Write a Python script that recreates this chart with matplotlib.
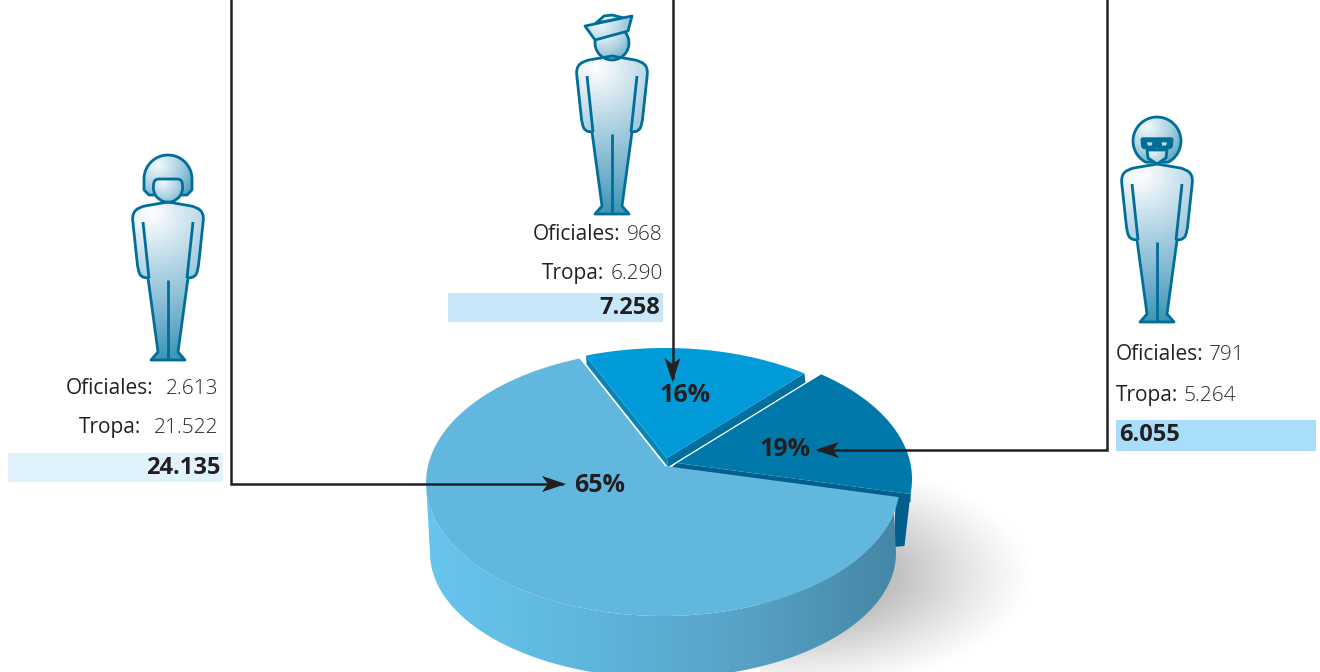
import numpy as np
import matplotlib
matplotlib.use('Agg')
import matplotlib.pyplot as plt
from matplotlib.colors import LinearSegmentedColormap
from matplotlib.path import Path
from matplotlib.patches import PathPatch, Polygon, Rectangle

# efectivos por grupo
oficiales = [2613, 968, 791]
tropa = [21522, 6290, 5264]
totales = [24135, 7258, 6055]
porcentajes = [65, 16, 19]

plt.rcParams['font.family'] = ['Open Sans', 'DejaVu Sans']

OUTLINE = '#006E98'
INK = '#231F20'
TOP = ['#62B7DF', '#029BD9', '#0079AA']
TIPS = [(665, 466), (667, 458), (677, 463)]
SHIFTS = [(-2, 0), (0, -2), (10, -4)]
CX, CY, RX, RY = 665, 483, 237, 133
K = 0.60
START = 347.5

fig = plt.figure(figsize=(13.2, 6.72), dpi=100)
ax = fig.add_axes([0, 0, 1, 1])
ax.set_xlim(0, 1320)
ax.set_ylim(672, 0)
ax.axis('off')


def fmt(n):
    return f'{n:,}'.replace(',', '.')


def rim(tip, shift, a):
    # punto del borde de la elipse en la direccion a, visto desde el vertice
    dx, dy = np.cos(a), -np.sin(a) * K
    px, py = tip[0] - CX - shift[0], tip[1] - CY - shift[1]
    A = dx**2 / RX**2 + dy**2 / RY**2
    B = 2 * (px * dx / RX**2 + py * dy / RY**2)
    C = px**2 / RX**2 + py**2 / RY**2 - 1
    t = (-B + np.sqrt(B**2 - 4 * A * C)) / (2 * A)
    return tip[0] + t * dx, tip[1] + t * dy


def face(i, a1, a2):
    angs = np.radians(np.linspace(a1, a2, 120))
    pts = [TIPS[i]] + [rim(TIPS[i], SHIFTS[i], a) for a in angs]
    return pts


def gradient(img, extent, clip, zorder, cmap=None):
    im = ax.imshow(img, extent=extent, aspect='auto', zorder=zorder, cmap=cmap,
                   vmin=0, vmax=1, interpolation='bilinear')
    im.set_clip_path(clip)
    return im


def fill_grad(path, cmap, center, radius, zorder):
    x0, y0, x1, y1 = path.get_extents().extents
    xx, yy = np.meshgrid(np.linspace(x0, x1, 150), np.linspace(y0, y1, 250))
    r = np.hypot(xx - center[0], yy - center[1]) / radius
    patch = PathPatch(path, fc='none', ec='none', zorder=zorder)
    ax.add_patch(patch)
    gradient(np.clip(r, 0, 1), (x0, x1, y1, y0), patch, zorder, cmap)


person_cmap = LinearSegmentedColormap.from_list('p', ['#FFFFFF', '#B8D7E6', '#75B2CD', '#2A8DB0'])
head_cmap = LinearSegmentedColormap.from_list('h', ['#F4FAFC', '#A9D0E0', '#3F97B8'])

BODY = [(0, -158), (29, -153), (36, -146), (30, -90), (27, -83), (20, -82),
        (10, -8), (17, 0), (-17, 0), (-10, -8), (-20, -82), (-27, -83),
        (-30, -90), (-36, -146), (-29, -153)]
BODY_SHARP = (0, 5, 6, 7, 8, 9, 10)


def closed(points):
    codes = [Path.MOVETO] + [Path.LINETO] * (len(points) - 1) + [Path.CLOSEPOLY]
    return Path(list(points) + [points[0]], codes)


def rounded(points, r=5, sharp=()):
    verts = []
    codes = []
    n = len(points)
    for i in range(n):
        p = np.array(points[i], float)
        a = np.array(points[i - 1], float)
        b = np.array(points[(i + 1) % n], float)
        if i in sharp:
            verts.append(tuple(p))
            codes.append(Path.MOVETO if i == 0 else Path.LINETO)
            continue
        ra = min(r, np.linalg.norm(a - p) / 2)
        rb = min(r, np.linalg.norm(b - p) / 2)
        s = p + (a - p) / np.linalg.norm(a - p) * ra
        e = p + (b - p) / np.linalg.norm(b - p) * rb
        verts += [tuple(s), tuple(p), tuple(e)]
        codes += [Path.MOVETO if i == 0 else Path.LINETO, Path.CURVE3, Path.CURVE3]
    verts.append(verts[0])
    codes.append(Path.CLOSEPOLY)
    return Path(verts, codes)


def draw_lines(ox, oy, segs, lw=2.0):
    for s in segs:
        xs = [ox + p[0] for p in s]
        ys = [oy + p[1] for p in s]
        ax.plot(xs, ys, color=OUTLINE, lw=lw, solid_capstyle='butt', zorder=6)


def ell(cx, cy, rx, ry, a1, a2, n=40):
    t = np.radians(np.linspace(a1, a2, n))
    return [(cx + rx * np.cos(v), cy - ry * np.sin(v)) for v in t]


def shape(ox, oy, pts, cmap, hx, hy, rad, z=5, r=0, sharp=()):
    moved = [(ox + x, oy + y) for x, y in pts]
    p = rounded(moved, r, sharp) if r else closed(moved)
    fill_grad(p, cmap, (ox + hx, oy + hy), rad, z)
    ax.add_patch(PathPatch(p, fc='none', ec=OUTLINE, lw=2.0, joinstyle='round', zorder=z + 1))


def person(ox, oy, kind):
    # cuerpo comun a las tres figuras
    shape(ox, oy, BODY, person_cmap, -17, -147, 160, r=7, sharp=BODY_SHARP)
    draw_lines(ox, oy, [[(-25, -138), (-19, -82)], [(25, -138), (19, -82)], [(0, -80), (0, 0)]])
    if kind == 'piloto':
        hair = ell(0, -181, 24, 24, 0, 180) + [(-24, -170), (-19, -165), (19, -165), (24, -170)]
        shape(ox, oy, hair, head_cmap, -10, -195, 45)
        fc = [(-14, -181), (14, -181), (15, -168), (9, -160), (0, -157), (-9, -160), (-15, -168)]
        shape(ox, oy, fc, head_cmap, -5, -178, 32, z=7, r=5)
    elif kind == 'marino':
        shape(ox, oy, ell(0, -171, 17, 17, 0, 360), head_cmap, -8, -183, 42)
        shape(ox, oy, [(-16, -191), (-8, -198), (0, -199), (12, -196)], head_cmap, -6, -200, 36, z=7)
        cap = [(-27, -188), (20, -198), (16, -183), (-17, -174)]
        shape(ox, oy, cap, head_cmap, -12, -192, 48, z=8)
    else:
        hair = ell(0, -181, 24, 24, -62, 242)
        shape(ox, oy, hair, head_cmap, -10, -195, 48)
        shape(ox, oy, [(-10, -172), (10, -172), (9, -164), (0, -158), (-9, -164)], head_cmap, -4, -172, 26, z=7)
        band = [(-16, -184), (16, -184), (15, -174), (4, -172), (0, -175), (-4, -172), (-15, -174)]
        ax.add_patch(PathPatch(rounded([(ox + x, oy + y) for x, y in band], 2), fc=OUTLINE, ec=OUTLINE, lw=1, zorder=9))
        shape(ox, oy, [(-12, -181), (-3, -181), (-4, -175), (-10, -175)], head_cmap, -8, -183, 14, z=10)
        shape(ox, oy, [(3, -181), (12, -181), (10, -175), (4, -175)], head_cmap, 6, -183, 14, z=10)


def pair(x, y, label, value, side, gap):
    if side == 'right':
        t = ax.text(x, y, fmt(value), ha='right', va='center', fontsize=15, color='#2A2A2A', fontweight='light')
        w = t.get_window_extent(fig.canvas.get_renderer()).width
        ax.text(x - w - gap, y, label, ha='right', va='center', fontsize=15, color='#222222')
    else:
        t = ax.text(x, y, label, ha='left', va='center', fontsize=15, color='#222222')
        w = t.get_window_extent(fig.canvas.get_renderer()).width
        ax.text(x + w + gap, y, fmt(value), ha='left', va='center', fontsize=15, color='#2A2A2A', fontweight='light')


def arrow(pts, tip_dir):
    xs = [p[0] for p in pts]
    ys = [p[1] for p in pts]
    ax.plot(xs, ys, color=INK, lw=1.8, solid_joinstyle='miter', zorder=12)
    x, y = pts[-1]
    dx, dy = tip_dir
    nx, ny = -dy, dx
    head = [(x + dx * 4, y + dy * 4), (x - dx * 20 + nx * 8, y - dy * 20 + ny * 8),
            (x - dx * 14, y - dy * 14), (x - dx * 20 - nx * 8, y - dy * 20 - ny * 8)]
    ax.add_patch(Polygon(head, closed=True, fc=INK, ec='none', zorder=13))


# sombra
xx, yy = np.meshgrid(np.linspace(760, 1060, 200), np.linspace(450, 672, 160))
r = np.hypot((xx - 790) / 245, (yy - 575) / 118)
shade = np.zeros(xx.shape + (4,))
shade[..., :3] = 0.36
shade[..., 3] = np.clip(1 - r, 0, 1) ** 1.2 * 0.75
ax.imshow(shade, extent=(760, 1060, 672, 450), aspect='auto', zorder=1)

# angulos de cada sector a partir de los totales
sweep = np.array(totales) / sum(totales) * 360
a_end = START - np.cumsum(sweep)
a_start = a_end + sweep
faces = [face(i, a_start[i], a_end[i]) for i in range(3)]

# pared del sector oscuro
dark_end = faces[2][-1]
dark_tip = TIPS[2]
big_end = faces[0][1]
ax.add_patch(Polygon([dark_tip, dark_end, (dark_end[0], dark_end[1] + 8), (668, 470)], fc='#005F8C', ec='none', zorder=3))
ax.add_patch(Polygon([dark_end, (dark_end[0] - 6, 546), (894, 547), (big_end[0] - 3, big_end[1])], fc='#005F8C', ec='none', zorder=3))

# paredes del sector azul
d = (1, 9)
blue_a = faces[1][1]
blue_b = faces[1][-1]
tip = TIPS[1]
ax.add_patch(Polygon([tip, blue_a, (blue_a[0] + d[0], blue_a[1] + d[1]), (tip[0] + d[0], tip[1] + d[1])], fc='#0A84B5', ec='none', zorder=3))
ax.add_patch(Polygon([tip, blue_b, (blue_b[0] + d[0], blue_b[1] + d[1]), (tip[0] + d[0], tip[1] + d[1])], fc='#006F9E', ec='none', zorder=3))

# pared exterior
low = [(663 + 233 * np.cos(t), 553 - 125 * np.sin(t)) for t in np.radians(np.linspace(0, -180, 80))]
top = ell(CX - 2, CY, RX, RY, 180, 347, 80)
wall = closed(top + low)
wall_patch = PathPatch(wall, fc='none', ec='none', zorder=3)
ax.add_patch(wall_patch)
wall_cmap = LinearSegmentedColormap.from_list('w', ['#68C5EE', '#5FB6DD', '#57A2C5', '#4485A4'])
gradient(np.linspace(0, 1, 300).reshape(1, -1), (426, 904, 672, 450), wall_patch, 3, wall_cmap)

# caras superiores
for i in range(3):
    ax.add_patch(Polygon(faces[i], closed=True, fc=TOP[i], ec='none', zorder=4))

# etiquetas
ax.add_patch(Rectangle((8, 453), 215, 29, fc='#E0F2FC', ec='none'))
ax.add_patch(Rectangle((448, 293), 215, 29, fc='#C8E8F9', ec='none'))
ax.add_patch(Rectangle((1116, 420), 200, 31, fc='#A9DEFA', ec='none'))

pair(218, 389, 'Oficiales:', oficiales[0], 'right', 12)
pair(218, 428, 'Tropa:', tropa[0], 'right', 12)
ax.text(220, 468, fmt(totales[0]), ha='right', va='center', fontsize=17, fontweight='bold', color=INK)
pair(663, 235, 'Oficiales:', oficiales[1], 'right', 7)
pair(663, 274, 'Tropa:', tropa[1], 'right', 7)
ax.text(660, 308, fmt(totales[1]), ha='right', va='center', fontsize=17, fontweight='bold', color=INK)
pair(1116, 355, 'Oficiales:', oficiales[2], 'left', 5)
pair(1116, 396, 'Tropa:', tropa[2], 'left', 5)
ax.text(1119, 435, fmt(totales[2]), ha='left', va='center', fontsize=17, fontweight='bold', color=INK)

pct_pos = [(600, 485), (685, 396), (785, 450)]
for (x, y), p in zip(pct_pos, porcentajes):
    ax.text(x, y, f'{p}%', ha='center', va='center', fontsize=18, fontweight='bold', color=INK, zorder=14)

arrow([(230.5, 0), (230.5, 484), (562, 484)], (1, 0))
arrow([(672.5, 0), (672.5, 378)], (0, 1))
arrow([(1106.5, 0), (1106.5, 450), (819, 450)], (-1, 0))

person(168, 360, 'piloto')
person(612, 214, 'marino')
person(1157, 322, 'gafas')

ax.set_xlim(0, 1320)
ax.set_ylim(672, 0)
fig.savefig('out.png', dpi=100)
